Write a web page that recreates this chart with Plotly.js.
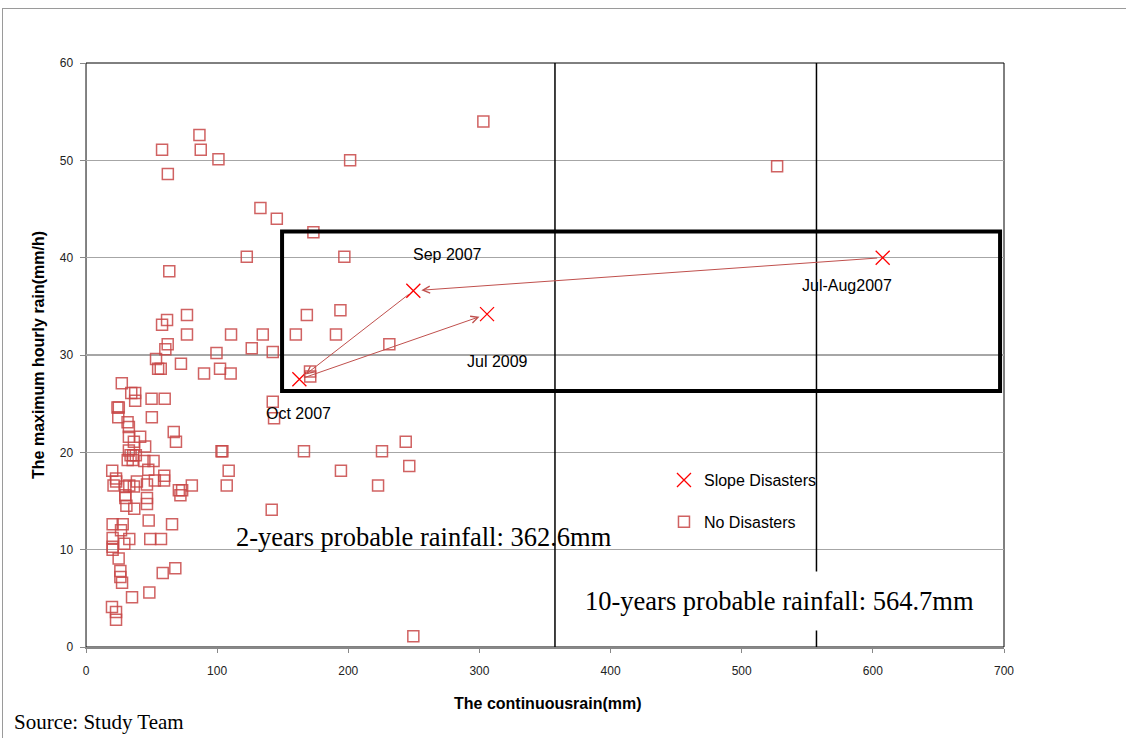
<!DOCTYPE html>
<html>
<head>
<meta charset="utf-8">
<script src="https://cdn.plot.ly/plotly-3.0.1.min.js"></script>
<style>
html,body{margin:0;padding:0;background:#fff;}
#frame{position:absolute;left:2px;top:8px;width:1130px;height:740px;border-left:1px solid #9a9a9a;border-top:1px solid #9a9a9a;box-sizing:border-box;pointer-events:none;z-index:5;}
#chart{position:absolute;left:0;top:0;width:1126px;height:738px;}
</style>
</head>
<body>
<div id="chart"></div>
<div id="frame"></div>
<script>
// No-disaster events: continuous rain (mm), max hourly rain (mm/h)
const noDisasterX = [58,86.5,87.5,101,62.4,133,145.5,122.6,63.5,201.4,173.4,197,303,527,
  168.4,194,110.6,134.8,160,190.6,231.3,126.4,99.5,142.4,90,102.2,110.3,170.8,171,
  77,61.8,58,77,62.3,60.5,53.4,55,57,72.4,
  27.3,34.5,37.5,37.5,50,60,24,25,24.6,50.2,31.7,32.7,66.9,68.6,32.7,41.3,36.5,45.1,32.7,34,36,38,31.8,35.6,44.5,51.5,
  47.5,20,22.9,59.7,108.8,194.4,246.5,243.8,225.7,166.2,104,103.3,142.4,143.4,
  23,21,30,33,36.5,38.8,46.5,52.5,59.5,70.8,73.3,72,80.7,107.3,222.7,30,30,46.5,46.5,30.8,36.8,141.6,
  20.3,28,26.7,47.8,65.6,20.3,33,49,57.2,29.2,20.3,20.3,24.9,26.2,26.2,27.5,58.5,68.1,35.1,48.3,19.8,22.9,22.9,249.6];
const noDisasterY = [51.1,52.6,51.1,50.1,48.6,45.1,44,40.1,38.6,50.0,42.6,40.1,54,49.4,
  34.1,34.6,32.1,32.1,32.1,32.1,31.1,30.7,30.2,30.3,28.1,28.6,28.1,28.3,27.8,
  34.1,33.6,33.1,32.1,31.1,30.6,29.6,28.6,28.6,29.1,
  27.1,26.1,26.1,25.3,25.5,25.5,24.6,24.6,23.6,23.6,23.1,22.6,22.1,21.1,21.6,21.6,21.1,20.6,20.2,19.7,19.7,19.7,19.2,19.2,19.1,19.1,
  18.2,18.1,17.3,17.6,18.1,18.1,18.6,21.1,20.1,20.1,20.1,20.1,25.2,23.5,
  17.0,16.6,16.5,16.6,16.5,17.0,16.7,17.1,17.1,16.1,16.1,15.6,16.6,16.6,16.6,15.6,15.3,15.3,14.7,14.5,14.2,14.1,
  12.6,12.6,12.0,13.0,12.6,11.2,11.1,11.1,11.1,10.6,10.3,10.0,9.1,7.8,7.2,6.6,7.6,8.1,5.1,5.6,4.1,3.6,2.8,1.1];

// Slope disaster events
const slopeLabels = ["Jul-Aug2007","Sep 2007","Oct 2007","Jul 2009"];
const slopeX = [607.5,249.6,162.7,305.8];
const slopeY = [40.0,36.6,27.5,34.2];

// Probable rainfall reference lines (as drawn)
const probLabels = ["2-years probable rainfall: 362.6mm","10-years probable rainfall: 564.7mm"];
const probX = [357.6,557];

// Highlight box (continuous rain range, hourly rain range)
const boxX = [149.5,697];
const boxY = [26.3,42.7];

const xTicks = [0,100,200,300,400,500,600,700];
const yTicks = [0,10,20,30,40,50,60];

const traces = [
  {x: slopeX, y: slopeY, type:'scatter', mode:'markers', name:'Slope Disasters', legendgroup:'a',
   marker:{symbol:'x-thin-open', size:14, color:'#ff0000', line:{color:'#ff0000', width:1.3}}},
  {x: noDisasterX, y: noDisasterY, type:'scatter', mode:'markers', name:'No Disasters', legendgroup:'b',
   marker:{symbol:'square-open', size:11, color:'rgba(200,70,70,0.85)', line:{width:1.5}}}
];

const sans = 'Liberation Sans, Arial, sans-serif';
const serif = 'Liberation Serif, Times New Roman, serif';
const lblFont = {family:sans, size:16, color:'#000'};
const annotations = [
  {x:275.3, y:40.3, xref:'x', yref:'y', text:'Sep 2007', showarrow:false, font:lblFont},
  {x:580.3, y:37.1, xref:'x', yref:'y', text:'Jul-Aug2007', showarrow:false, font:lblFont},
  {x:313.4, y:29.3, xref:'x', yref:'y', text:'Jul 2009', showarrow:false, font:lblFont},
  {x:162.4, y:24.0, xref:'x', yref:'y', text:'Oct 2007', showarrow:false, font:lblFont},
  {x:257.7, y:11.3, xref:'x', yref:'y', text:probLabels[0], showarrow:false,
   font:{family:serif, size:26.5, color:'#000'}},
  {x:529, y:4.7, xref:'x', yref:'y', text:probLabels[1], showarrow:false, bgcolor:'#ffffff', borderpad:14,
   font:{family:serif, size:26.5, color:'#000'}},
  {x:-0.0523, y:0.5, xref:'paper', yref:'paper', xanchor:'center', yanchor:'middle',
   text:'<b>The maximum hourly rain(mm/h)</b>', textangle:-90,
   showarrow:false, font:{family:sans, size:16, color:'#000'}},
  {x:0.503, y:-0.0959, xref:'paper', yref:'paper', xanchor:'center', yanchor:'middle',
   text:'<b>The continuousrain(mm)</b>',
   showarrow:false, font:{family:sans, size:16, color:'#000'}},
  {x:-0.0806, y:-0.128, xref:'paper', yref:'paper', xanchor:'left', yanchor:'middle', text:'Source: Study Team',
   showarrow:false, font:{family:serif, size:21, color:'#000'}}
];
// arrows between successive disaster events
const arrowPairs = [[0,1],[1,2],[2,3]];
arrowPairs.forEach(p => {
  annotations.push({x:slopeX[p[1]], y:slopeY[p[1]], ax:slopeX[p[0]], ay:slopeY[p[0]],
    xref:'x', yref:'y', axref:'x', ayref:'y', text:'', showarrow:true,
    arrowhead:5, arrowsize:1.4, arrowwidth:1, arrowcolor:'#c0504d', standoff:8, startstandoff:4});
});

const shapes = [
  {type:'rect', xref:'paper', yref:'paper', x0:0, x1:1, y0:0, y1:1, line:{color:'#000', width:1}, layer:'below'},
  {type:'line', xref:'x', yref:'y', x0:probX[0], x1:probX[0], y0:0, y1:60, line:{color:'#000', width:1.5}},
  {type:'line', xref:'x', yref:'y', x0:probX[1], x1:probX[1], y0:0, y1:60, line:{color:'#000', width:1.5}},
  {type:'rect', xref:'x', yref:'y', x0:boxX[0], x1:boxX[1], y0:boxY[0], y1:boxY[1], line:{color:'#000', width:4}}
];

const layout = {
  width:1126, height:738,
  margin:{l:86, r:122, t:63, b:91},
  paper_bgcolor:'#fff', plot_bgcolor:'#fff',
  showlegend:true,
  legend:{x:0.6296, y:0.315, xanchor:'left', yanchor:'top', bgcolor:'rgba(0,0,0,0)',
    font:{family:sans, size:16, color:'#000'}, tracegroupgap:18, itemwidth:30},
  xaxis:{range:[0,700], tickvals:xTicks, ticktext:xTicks.map(String), showgrid:false, zeroline:false,
    showline:true, linecolor:'#888', linewidth:2, ticks:'outside', ticklen:4, tickcolor:'#888',
    ticklabelstandoff:8, tickfont:{family:sans, size:12, color:'#222'}},
  yaxis:{range:[0,60], tickvals:yTicks, ticktext:yTicks.map(String), showgrid:true, gridcolor:'#a6a6a6', gridwidth:1.5,
    zeroline:false, showline:true, linecolor:'#888', linewidth:1.5, ticks:'outside', ticklen:5, tickcolor:'#888',
    ticklabelstandoff:4, tickfont:{family:sans, size:12, color:'#222'}},
  shapes: shapes,
  annotations: annotations
};

Plotly.newPlot('chart', traces, layout, {displayModeBar:false, staticPlot:true});
</script>
</body>
</html>
